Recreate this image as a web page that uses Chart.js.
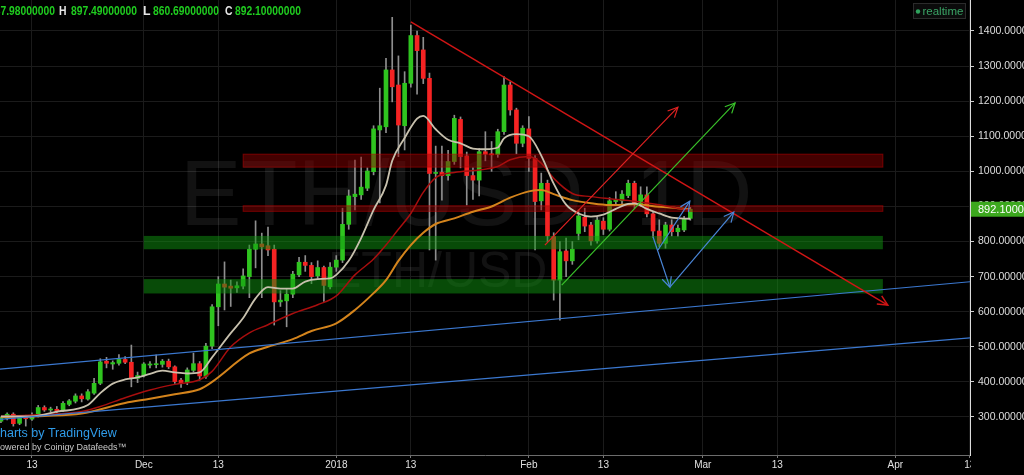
<!DOCTYPE html>
<html><head><meta charset="utf-8">
<script src="https://cdn.jsdelivr.net/npm/chart.js@4.4.1/dist/chart.umd.min.js"></script>
<style>html,body{margin:0;padding:0;background:#000;overflow:hidden}canvas{display:block}</style>
</head><body>
<canvas id="c" width="1024" height="475"></canvas>
<script>
// ---------- data (daily ETH/USD candles, first candle = 2017-11-08) ----------
const firstDate = '2017-11-08';
const opens  = [288,296,308,282,301,294,304,327,320,322,318,336,345,360,351,368,396,459,451,453,464,456,410,418,448,449,450,459,443,405,398,433,452,416,502,614,679,673,668,673,700,778,793,788,778,628,631,650,705,741,732,702,726,671,727,747,849,928,933,952,999,1118,1127,1289,1246,1130,1251,1387,1346,1265,994,997,988,1028,1148,1044,988,975,1056,1050,1048,1113,1246,1175,1080,1121,1037,916,966,814,690,773,745,823,869,847,802,858,835,914,916,931,966,907,933,879,830,795,847,828,833,866];
const highs  = [300,312,312,304,305,312,333,332,328,330,344,350,366,366,378,410,466,470,460,478,472,505,428,455,458,477,464,465,446,410,440,482,458,510,620,700,742,690,685,722,790,859,824,841,790,660,665,715,755,760,740,745,730,740,760,895,947,1032,1041,1010,1130,1237,1322,1439,1329,1284,1417,1400,1382,1280,1072,1072,1060,1160,1155,1055,1010,1065,1113,1085,1120,1270,1255,1180,1130,1156,1045,995,975,825,800,810,800,890,895,855,870,868,925,942,945,975,972,956,956,885,862,855,862,847,872,897.49];
const lows   = [284,292,274,278,274,290,300,316,314,312,315,332,340,343,348,364,392,440,436,448,452,386,398,414,440,440,442,438,396,384,392,428,405,410,495,560,605,615,655,665,640,725,640,760,562,615,557,640,700,715,680,695,629,665,715,740,835,890,920,945,990,910,1110,1198,1042,1061,1240,1220,1250,776,747,918,975,1020,1010,904,920,930,1030,1000,1040,1105,1160,1050,1070,1000,776,890,800,633,576,700,735,805,828,790,795,820,830,905,905,925,895,900,870,812,785,781,816,815,828,860.69];
const closes = [298,308,281,301,295,303,327,320,322,318,339,346,360,352,372,396,457,453,455,464,456,412,418,451,451,452,459,443,401,396,434,452,417,502,614,679,670,667,674,702,778,793,785,776,628,633,650,707,741,732,700,726,675,727,747,849,930,935,955,1001,1121,1130,1289,1241,1132,1251,1387,1344,1265,994,997,988,1028,1151,1042,988,975,1056,1049,1047,1113,1246,1175,1080,1123,1037,914,966,816,690,771,745,778,873,844,802,861,835,916,920,935,966,907,933,879,830,795,847,828,838,866,892.1];

// moving averages: [date, price]
const maFast = [['2017-11-08',302],['2017-11-13',302],['2017-11-17',315],['2017-11-22',334],['2017-11-24',368],['2017-11-26',395],['2017-11-28',407],['2017-11-30',413],['2017-12-02',423],['2017-12-04',432],['2017-12-06',427],['2017-12-08',424],['2017-12-10',427],['2017-12-12',470],['2017-12-15',539],['2017-12-17',582],['2017-12-19',638],['2017-12-21',670],['2017-12-23',666],['2017-12-25',666],['2017-12-27',686],['2017-12-29',693],['2017-12-31',695],['2018-01-01',705],['2018-01-03',745],['2018-01-05',810],['2018-01-07',890],['2018-01-09',960],['2018-01-10',1030],['2018-01-12',1095],['2018-01-14',1150],['2018-01-15',1158],['2018-01-17',1120],['2018-01-19',1090],['2018-01-21',1080],['2018-01-23',1065],['2018-01-25',1063],['2018-01-27',1068],['2018-01-28',1094],['2018-01-30',1106],['2018-02-01',1100],['2018-02-03',1045],['2018-02-05',965],['2018-02-07',905],['2018-02-09',880],['2018-02-11',871],['2018-02-13',877],['2018-02-15',893],['2018-02-17',907],['2018-02-18',909],['2018-02-20',893],['2018-02-22',880],['2018-02-24',868],['2018-02-27',865]];
const maMid = [['2017-11-08',302],['2017-11-15',307],['2017-11-21',316],['2017-11-24',330],['2017-11-28',355],['2017-12-02',377],['2017-12-06',393],['2017-12-10',406],['2017-12-12',430],['2017-12-15',500],['2017-12-18',540],['2017-12-21',563],['2017-12-25',595],['2017-12-29',620],['2018-01-01',645],['2018-01-04',705],['2018-01-07',750],['2018-01-09',790],['2018-01-11',835],['2018-01-13',880],['2018-01-15',940],['2018-01-17',982],['2018-01-20',997],['2018-01-24',1004],['2018-01-27',1014],['2018-01-29',1033],['2018-02-01',1042],['2018-02-03',1023],['2018-02-05',980],['2018-02-08',937],['2018-02-11',928],['2018-02-14',922],['2018-02-18',915],['2018-02-22',905],['2018-02-25',895],['2018-02-27',890]];
const maSlow = [['2017-11-08',300],['2017-11-15',303],['2017-11-21',310],['2017-11-28',340],['2017-12-02',352],['2017-12-06',365],['2017-12-10',379],['2017-12-12',400],['2017-12-18',481],['2017-12-21',500],['2017-12-25',522],['2017-12-28',545],['2018-01-01',567],['2018-01-04',605],['2018-01-07',653],['2018-01-09',690],['2018-01-11',745],['2018-01-13',790],['2018-01-15',825],['2018-01-17',850],['2018-01-20',866],['2018-01-23',885],['2018-01-26',900],['2018-01-29',925],['2018-02-01',943],['2018-02-03',947],['2018-02-05',935],['2018-02-08',918],['2018-02-11',909],['2018-02-14',904],['2018-02-18',906],['2018-02-22',899],['2018-02-25',895],['2018-02-27',892]];

// drawings: [date, price] end points
const trendDown     = [['2018-01-13',1426],['2018-03-30T19:00:00Z',619]];
const channelUpper  = [['2017-11-07',435],['2018-04-14',687]];
const channelLower  = [['2017-11-07',292],['2018-04-14',527]];
const arrowRed      = [['2018-02-03T14:00:00Z',790],['2018-02-25',1183]];
const arrowGreen    = [['2018-02-06T07:00:00Z',676],['2018-03-06T05:00:00Z',1195]];
const arrowBlueUp   = [['2018-02-21T19:00:00Z',776],['2018-02-26T22:00:00Z',915]];
const arrowBlueDown = [['2018-02-21',813],['2018-02-23T17:00:00Z',670]];
const arrowBlueBack = [['2018-02-23T17:00:00Z',670],['2018-03-06',884]];
// zones: [from, to, low, high, kind]
const zones = [['2017-12-01','2018-03-30',778,816,'g'],['2017-12-01','2018-03-30',652,693,'g'],['2017-12-17','2018-03-30',1012,1049,'r'],['2017-12-17','2018-03-30',886,902,'r']];

const tickDates  = ['2017-11-13','2017-12-01','2017-12-13','2018-01-01','2018-01-13','2018-02-01','2018-02-13','2018-03-01','2018-03-13','2018-04-01','2018-04-13'];
const tickLabels = ['13','Dec','13','2018','13','Feb','13','Mar','13','Apr','13'];
const priceTicks = [300,400,500,600,700,800,900,1000,1100,1200,1300,1400];
const ohlcLabels = ['O','H','L','C'];
const ohlcValues = [887.98, 897.49, 860.69, 892.10];
const lastPrice = 892.10;

// ---------- helpers ----------
const t0 = Date.parse(firstDate);
const idx = s => (Date.parse(s) - t0) / 864e5;
const pts = arr => arr.map(([d, v]) => ({x: idx(d), y: v}));
const GREEN = '#2fc41f', RED = '#f52323';
const FONT = '"Liberation Sans", Arial, sans-serif';

const lineDs = (data, color, width, order, arrow) => ({
  type: 'line', data: pts(data), borderColor: color, borderWidth: width, pointRadius: 0,
  fill: false, tension: 0, order, arrowHead: !!arrow
});
const maDs = (data, color, width, order) => Object.assign(lineDs(data, color, width, order), {cubicInterpolationMode: 'monotone'});

const datasets = [
  {type: 'bar', data: highs.map((h, i) => ({x: i, y: [lows[i], h]})), backgroundColor: '#8e8e8e', barThickness: 1, grouped: false, order: 20},
  {type: 'bar', data: opens.map((o, i) => ({x: i, y: [o, closes[i]]})), backgroundColor: opens.map((o, i) => closes[i] >= o ? GREEN : RED), barThickness: 4, grouped: false, minBarLength: 1, order: 19},
  maDs(maSlow, '#d4841c', 2, 9),
  maDs(maMid, '#a80e0e', 1.5, 8),
  maDs(maFast, '#c8c1ae', 1.8, 7),
  lineDs(channelUpper, '#3b78d0', 1.2, 5),
  lineDs(channelLower, '#3b78d0', 1.2, 5),
  lineDs(trendDown, '#d01515', 1.5, 4, true),
  lineDs(arrowRed, '#e02222', 1.2, 3, true),
  lineDs(arrowGreen, '#39c22a', 1.2, 3, true),
  lineDs(arrowBlueUp, '#4a86d8', 1.2, 2, true),
  lineDs(arrowBlueDown, '#4a86d8', 1.2, 2, true),
  lineDs(arrowBlueBack, '#4a86d8', 1.2, 2, true)
];

const drawText = (ctx, text, x, y, font, color, targetW) => {
  ctx.font = font; ctx.fillStyle = color;
  const w = ctx.measureText(text).width;
  if (targetW && w > targetW) {
    ctx.save(); ctx.translate(x, y); ctx.scale(targetW / w, 1); ctx.fillText(text, 0, 0); ctx.restore();
  } else ctx.fillText(text, x, y);
};

const overlay = {
  id: 'overlay',
  beforeDatasetsDraw(chart) {
    const ctx = chart.ctx;
    ctx.save();
    ctx.textBaseline = 'alphabetic'; ctx.textAlign = 'left';
    ctx.fillStyle = 'rgba(255,255,255,0.07)';
    ctx.font = '92px ' + FONT;
    ctx.fillText('ETH/USD, 1D', 180, 225);
    ctx.font = '50px ' + FONT;
    ctx.fillText('ETH/USD', 328, 287);
    ctx.restore();
  },
  afterDatasetDraw(chart, args) {
    if (args.index !== 1) return;
    const ctx = chart.ctx, xs = chart.scales.x, ys = chart.scales.y, ca = chart.chartArea;
    ctx.save();
    ctx.beginPath(); ctx.rect(ca.left, ca.top, ca.right - ca.left, ca.bottom - ca.top); ctx.clip();
    zones.forEach(([a, b, lo, hi, k]) => {
      const x1 = xs.getPixelForValue(idx(a)), x2 = xs.getPixelForValue(idx(b));
      const y1 = ys.getPixelForValue(hi), y2 = ys.getPixelForValue(lo);
      ctx.fillStyle = k === 'g' ? 'rgba(16,150,16,0.5)' : 'rgba(150,0,0,0.45)';
      ctx.fillRect(x1, y1, x2 - x1, y2 - y1);
      if (k === 'r') { ctx.strokeStyle = 'rgba(200,0,0,0.5)'; ctx.lineWidth = 1; ctx.strokeRect(x1, y1, x2 - x1, y2 - y1); }
    });
    ctx.restore();
  },
  afterDatasetsDraw(chart) {
    const ctx = chart.ctx;
    chart.data.datasets.forEach((ds, i) => {
      if (!ds.arrowHead) return;
      const p = chart.getDatasetMeta(i).data;
      const a = p[p.length - 2], b = p[p.length - 1];
      const ang = Math.atan2(b.y - a.y, b.x - a.x), L = 11, s = 0.45;
      ctx.save(); ctx.strokeStyle = ds.borderColor; ctx.lineWidth = ds.borderWidth;
      ctx.beginPath();
      ctx.moveTo(b.x - L * Math.cos(ang - s), b.y - L * Math.sin(ang - s));
      ctx.lineTo(b.x, b.y);
      ctx.lineTo(b.x - L * Math.cos(ang + s), b.y - L * Math.sin(ang + s));
      ctx.stroke(); ctx.restore();
    });
  },
  afterDraw(chart) {
    const ctx = chart.ctx, ys = chart.scales.y, ca = chart.chartArea;
    ctx.save();
    // hide the part of the last time label running under the price scale
    ctx.fillStyle = '#000'; ctx.fillRect(ca.right + 1, ca.bottom + 1, 1024 - ca.right, 475 - ca.bottom);
    // OHLC header
    ctx.textBaseline = 'middle'; ctx.textAlign = 'left';
    const labelX = [-25, 59, 143, 225], valueX = [-11, 71, 153, 235];
    ohlcLabels.forEach((l, i) => {
      drawText(ctx, l, labelX[i], 12, 'bold 12.5px ' + FONT, '#e6e6e6', 7.5);
      drawText(ctx, ohlcValues[i].toFixed(8), valueX[i], 12, 'bold 12.5px ' + FONT, '#1fcc1f', 66);
    });
    // realtime badge
    ctx.fillStyle = '#0b0b0b'; ctx.fillRect(913, 3, 53, 16);
    ctx.strokeStyle = '#2b2b2b'; ctx.lineWidth = 1; ctx.strokeRect(913.5, 3.5, 52, 15);
    ctx.fillStyle = '#2fa35d'; ctx.beginPath(); ctx.arc(918, 11.5, 2.2, 0, Math.PI * 2); ctx.fill();
    drawText(ctx, 'realtime', 922.5, 11.5, '11.5px ' + FONT, '#3aa365');
    // last price label
    const py = ys.getPixelForValue(lastPrice);
    ctx.fillStyle = '#3ca81e'; ctx.fillRect(ca.right + 1, py - 7.5, 1024 - ca.right, 15);
    drawText(ctx, lastPrice.toFixed(6), 978, py + 0.5, '11px ' + FONT, '#ffffff');
    // attribution
    ctx.textBaseline = 'alphabetic';
    ctx.font = '12.5px ' + FONT;
    drawText(ctx, 'Charts by TradingView', -ctx.measureText('C').width, 437, '12.5px ' + FONT, '#2f9be8');
    ctx.font = '9px ' + FONT;
    drawText(ctx, 'Powered by Coinigy Datafeeds\u2122', -ctx.measureText('P').width, 449.5, '9px ' + FONT, '#c8c8c8');
    ctx.restore();
  }
};

new Chart(document.getElementById('c'), {
  type: 'bar',
  data: {datasets},
  plugins: [overlay],
  options: {
    responsive: false, animation: false, devicePixelRatio: 1, events: [],
    layout: {padding: 0},
    plugins: {legend: {display: false}, tooltip: {enabled: false}},
    scales: {
      x: {
        type: 'linear', offset: false, min: -0.15, max: 156.03,
        grid: {color: '#1b1b1b', tickColor: '#7a7a7a', tickLength: 3, offset: false},
        border: {color: '#6c6c6c'},
        afterBuildTicks: s => { s.ticks = tickDates.map(d => ({value: idx(d)})); },
        afterFit: s => { s.height = 20; s.paddingLeft = 0; s.paddingRight = 0; s.paddingTop = 0; s.paddingBottom = 0; },
        ticks: {autoSkip: false, maxRotation: 0, minRotation: 0, padding: 1, color: '#e0e0e0',
          font: {family: FONT, size: 10}, callback: (v, i) => tickLabels[i]}
      },
      y: {
        type: 'linear', position: 'right', min: 191.7, max: 1488.3, beginAtZero: false,
        grid: {color: '#1b1b1b', tickColor: '#cfcfcf', tickLength: 4},
        border: {color: '#dcdcdc'},
        afterBuildTicks: s => { s.ticks = priceTicks.map(v => ({value: v})); },
        afterFit: s => { s.width = 54; s.paddingTop = 0; s.paddingBottom = 0; },
        ticks: {padding: 4, color: '#dedede', font: {family: FONT, size: 10.5}, callback: v => v.toFixed(6)}
      }
    }
  }
});
</script>
</body></html>
